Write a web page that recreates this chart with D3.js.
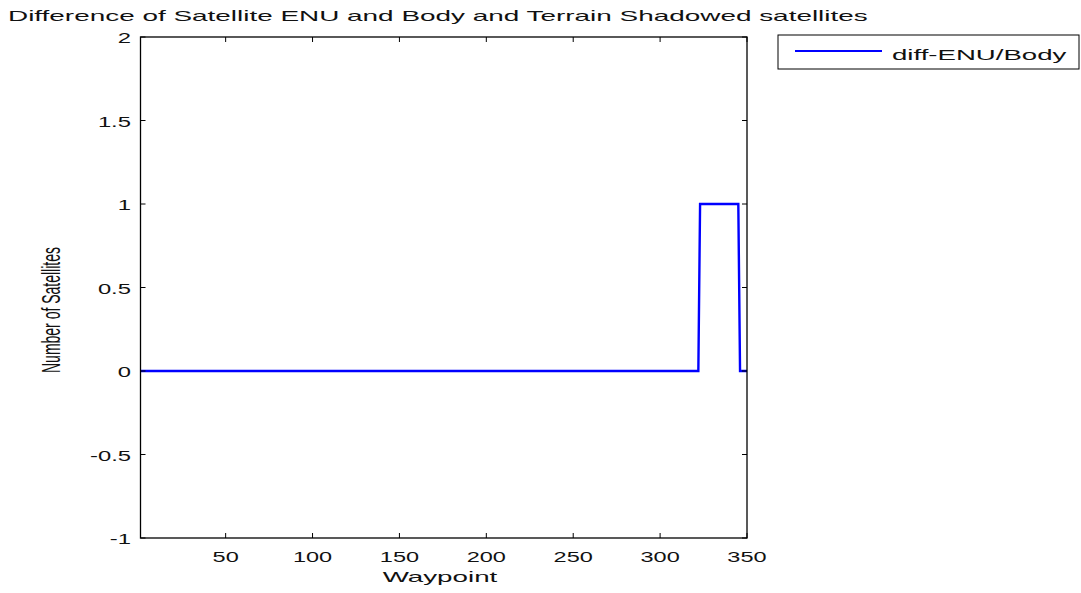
<!DOCTYPE html>
<html><head><meta charset="utf-8">
<script src="https://cdn.jsdelivr.net/npm/d3@7"></script>
<style>body{margin:0;background:#fff}svg{display:block;font-family:"Liberation Sans",Arial,sans-serif}</style>
</head><body><svg id="c" width="1081" height="593"></svg>
<script>
const title = "Difference of Satellite ENU and Body and Terrain Shadowed satellites";
const xLabel = "Waypoint";
const yLabel = "Number of Satellites";
const seriesName = "diff-ENU/Body";
const xTicks = [50, 100, 150, 200, 250, 300, 350];
const yTicks = [-1, -0.5, 0, 0.5, 1, 1.5, 2];
const yTickLabels = ["-1", "-0.5", "0", "0.5", "1", "1.5", "2"];
// Step segments: [start waypoint, end waypoint, value]
const segStart = [1, 323, 346];
const segEnd = [322, 345, 350];
const segValue = [0, 1, 0];

const data = [];
for (let s = 0; s < segStart.length; s++) {
  for (let w = segStart[s]; w <= segEnd[s]; w++) data.push({x: w, y: segValue[s]});
}

const svg = d3.select("#c");
const L = 140.5, R = 747, T = 37, B = 538;
const x = d3.scaleLinear().domain([1, 350]).range([L, R]);
const y = d3.scaleLinear().domain([-1, 2]).range([B, T]);
const tl = 5;

// stretch text horizontally like the reference renderer
function stretch(sel, k) {
  sel.each(function() {
    const w = this.getComputedTextLength();
    d3.select(this).attr("textLength", w * k).attr("lengthAdjust", "spacingAndGlyphs");
  });
  return sel;
}

stretch(svg.append("text").attr("x", 8).attr("y", 21).attr("font-size", 15).attr("fill", "#111").text(title), 1.86);

// line
svg.append("path").datum(data)
  .attr("fill", "none").attr("stroke", "#0000ff").attr("stroke-width", 2.4)
  .attr("d", d3.line().x(d => x(d.x)).y(d => y(d.y)));

// box
svg.append("rect").attr("x", L).attr("y", T).attr("width", R - L).attr("height", B - T)
  .attr("fill", "none").attr("stroke", "#000").attr("stroke-width", 1.3);

// ticks
const g = svg.append("g").attr("stroke", "#000").attr("stroke-width", 1);
xTicks.forEach(t => {
  g.append("line").attr("x1", x(t)).attr("x2", x(t)).attr("y1", B).attr("y2", B - tl);
  g.append("line").attr("x1", x(t)).attr("x2", x(t)).attr("y1", T).attr("y2", T + tl);
});
yTicks.forEach(t => {
  g.append("line").attr("x1", L).attr("x2", L + tl).attr("y1", y(t)).attr("y2", y(t));
  g.append("line").attr("x1", R).attr("x2", R - tl).attr("y1", y(t)).attr("y2", y(t));
});
xTicks.forEach(t => {
  stretch(svg.append("text").attr("x", x(t)).attr("y", 562).attr("text-anchor", "middle")
    .attr("font-size", 14).attr("fill", "#111").text(t), 1.68);
});
yTicks.forEach((t, i) => {
  stretch(svg.append("text").attr("x", 131).attr("y", y(t) + 6).attr("text-anchor", "end")
    .attr("font-size", 14).attr("fill", "#111").text(yTickLabels[i]), 1.7);
});
stretch(svg.append("text").attr("x", 440).attr("y", 582).attr("text-anchor", "middle")
  .attr("font-size", 15).attr("fill", "#111").text(xLabel), 1.85);
svg.append("text").attr("transform", "translate(60,310) rotate(-90)").attr("text-anchor", "middle")
  .attr("font-size", 25).attr("fill", "#111").attr("textLength", 126).attr("lengthAdjust", "spacingAndGlyphs").text(yLabel);

// legend
svg.append("rect").attr("x", 778).attr("y", 35).attr("width", 301).attr("height", 34)
  .attr("fill", "#fff").attr("stroke", "#000").attr("stroke-width", 1);
svg.append("line").attr("x1", 795).attr("x2", 882).attr("y1", 51).attr("y2", 51)
  .attr("stroke", "#0000ff").attr("stroke-width", 2);
stretch(svg.append("text").attr("x", 892).attr("y", 60).attr("font-size", 15).attr("fill", "#111").text(seriesName), 1.84);
</script></body></html>
